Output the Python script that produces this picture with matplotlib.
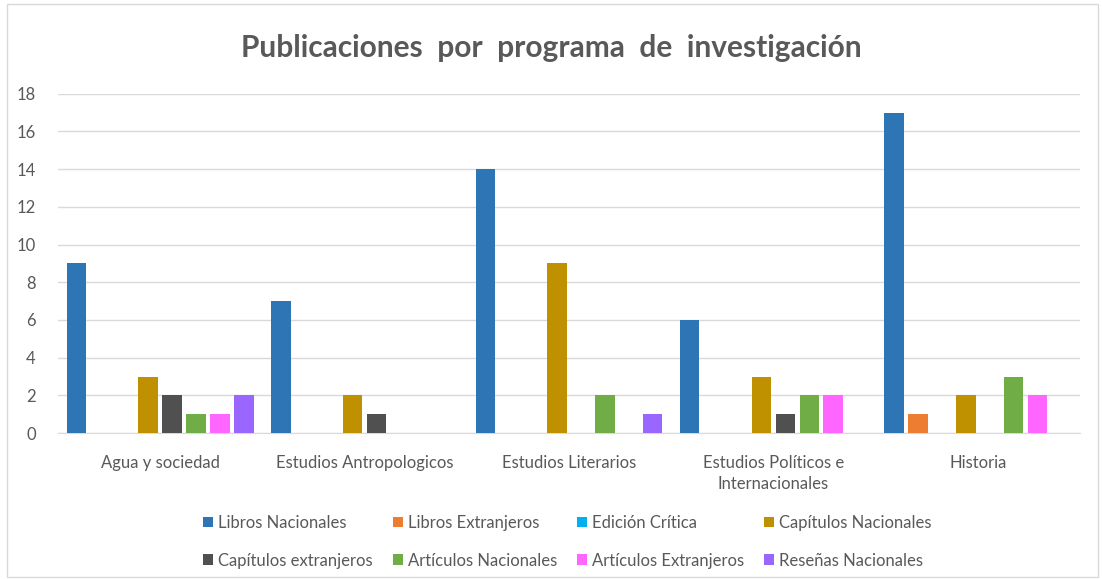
import numpy as np
import matplotlib
matplotlib.use("Agg")
import matplotlib.pyplot as plt

plt.rcParams["font.family"] = ["Lato", "DejaVu Sans"]

categorias = ["Agua y sociedad", "Estudios Antropologicos", "Estudios Literarios",
              "Estudios Políticos e\nInternacionales", "Historia"]
series = ["Libros Nacionales", "Libros Extranjeros", "Edición Crítica", "Capítulos Nacionales",
          "Capítulos extranjeros", "Artículos Nacionales", "Artículos Extranjeros", "Reseñas Nacionales"]
libros_nac = [9, 7, 14, 6, 17]
libros_ext = [0, 0, 0, 0, 1]
edicion_critica = [0, 0, 0, 0, 0]
capitulos_nac = [3, 2, 9, 3, 2]
capitulos_ext = [2, 1, 0, 1, 0]
articulos_nac = [1, 0, 2, 2, 3]
articulos_ext = [1, 0, 0, 2, 2]
resenas_nac = [2, 0, 1, 0, 0]
valores = [libros_nac, libros_ext, edicion_critica, capitulos_nac,
           capitulos_ext, articulos_nac, articulos_ext, resenas_nac]
colores = ["#2E75B6", "#ED7D31", "#00B0F0", "#BF9000",
           "#505050", "#70AD47", "#FF66FF", "#9966FF"]

fig = plt.figure(figsize=(11.02, 5.79), dpi=100)
ax = fig.add_axes([0.0526, 0.252, 0.9274, 0.586])

x = np.arange(len(categorias))
slot = 0.117
ancho = 0.095
for i, (nombre, vals, c) in enumerate(zip(series, valores, colores)):
    ax.bar(x + (i - 3.5) * slot, vals, ancho, color=c, label=nombre, zorder=3)

ax.set_xlim(-0.5, len(categorias) - 0.5)
ax.set_ylim(0, 18)
ax.set_yticks(range(0, 19, 2))
ax.grid(axis="y", color="#D9D9D9", linewidth=1, zorder=0)
for s in ["top", "right", "left"]:
    ax.spines[s].set_visible(False)
ax.spines["bottom"].set_color("#D9D9D9")
ax.tick_params(axis="both", length=0, labelsize=12, colors="#595959")
ax.tick_params(axis="y", pad=16)
ax.set_xticks(x)
ax.set_xticklabels(categorias, linespacing=1.35)
ax.tick_params(axis="x", pad=16)

fig.text(0.5, 1 - 48 / 579, "Publicaciones  por  programa  de  investigación",
         ha="center", va="center", fontsize=21.5, fontweight="bold", color="#595959")

# legend filled row by row
h, l = ax.get_legend_handles_labels()
orden = [0, 4, 1, 5, 2, 6, 3, 7]
fig.legend([h[i] for i in orden], [l[i] for i in orden], loc="lower center",
           bbox_to_anchor=(0.515, -0.008), ncol=4, frameon=False,
           fontsize=12, labelcolor="#595959", handlelength=0.6, handleheight=0.6,
           handletextpad=0.3, columnspacing=1.2, labelspacing=1.3)

fig.patches.append(plt.Rectangle((0.006, 0.003), 0.99, 0.99, transform=fig.transFigure,
                                 fill=False, edgecolor="#D9D9D9", linewidth=1))

fig.savefig("out.png", dpi=100)
